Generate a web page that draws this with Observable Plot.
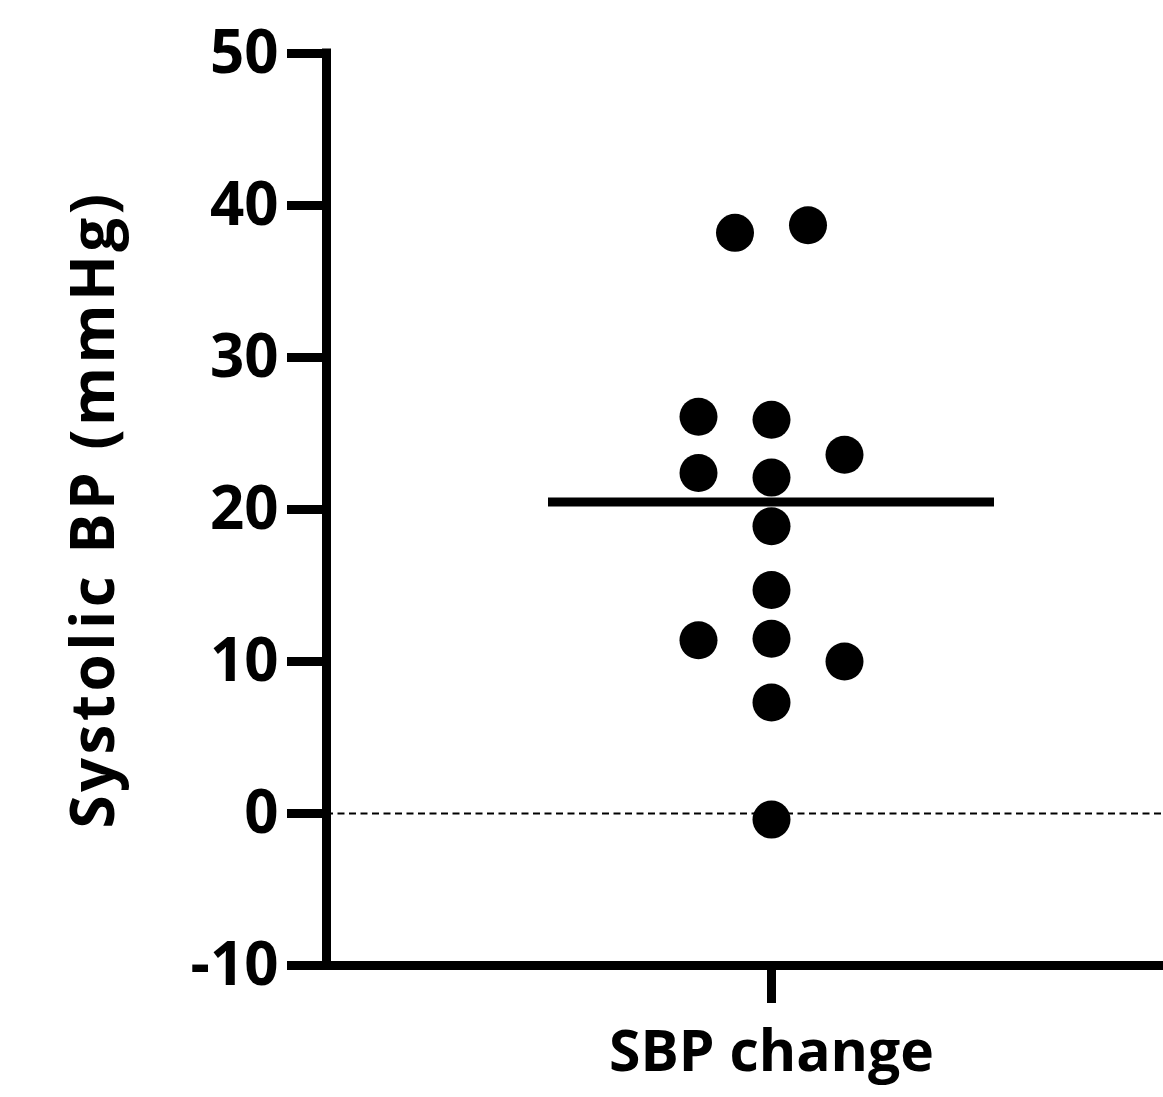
<!DOCTYPE html>
<html>
<head>
<meta charset="utf-8">
<script src="https://cdn.jsdelivr.net/npm/d3@7"></script>
<script src="https://cdn.jsdelivr.net/npm/@observablehq/plot@0.6"></script>
<style>
  html, body { margin: 0; padding: 0; background: #fff; }
</style>
</head>
<body>
<div id="chart"></div>
<script>
// Systolic BP change per subject (mmHg)
const values = [38.2, 38.7, 26.1, 25.9, 23.6, 22.4, 22.1, 18.9, 14.7, 11.4, 11.5, 10.0, 7.3, -0.4];
// beeswarm column of each point (0 = centre of the group)
const columns = [-1, 1, -2, 0, 2, -2, 0, 0, 0, -2, 0, 2, 0, 0];
const groupLabel = "SBP change";
const yTicks = [-10, 0, 10, 20, 30, 40, 50];
const yLabel = "Systolic BP (mmHg)";

const data = values.map((v, i) => ({value: v, col: columns[i]}));
const median = d3.median(values);

const colPx = 36.5;                    // pixel spacing of one column
const xDomain = [-445 / colPx, 392 / colPx];
const halfLine = 223 / colPx;

const chart = Plot.plot({
  width: 1163,
  height: 1097,
  marginLeft: 326,
  marginRight: 0,
  marginTop: 53,
  marginBottom: 132,
  style: {fontFamily: "'Open Sans', sans-serif", background: "#fff", color: "#000"},
  x: {domain: xDomain},
  y: {domain: [-10, 50]},
  marks: [
    Plot.ruleY([0], {stroke: "#000", strokeWidth: 2, strokeDasharray: "7,4.5"}),
    Plot.ruleY([median], {x1: -halfLine, x2: halfLine, stroke: "#000", strokeWidth: 9}),
    Plot.dot(data, {x: "col", y: "value", r: 19, fill: "#000", stroke: "none"}),
    Plot.ruleY([-10], {stroke: "#000", strokeWidth: 9, strokeLinecap: "square"}),
    Plot.ruleX([xDomain[0]], {y1: -10, y2: 50, stroke: "#000", strokeWidth: 9, strokeLinecap: "square"}),
    Plot.axisY({ticks: yTicks, tickSize: 39, tickPadding: 9, strokeWidth: 9, stroke: "#000",
      fontSize: 60, fontWeight: "bold", label: null, tickFormat: d => String(d)}),
    Plot.axisX({ticks: [0], tickSize: 38, tickPadding: 27, strokeWidth: 9, stroke: "#000",
      fontSize: 57, fontWeight: "bold", label: null, tickFormat: () => groupLabel}),
    Plot.text([yLabel], {frameAnchor: "left", dx: -213, rotate: -90, textAnchor: "middle",
      lineAnchor: "bottom", fontSize: 60, fontWeight: "bold", fill: "#000"})
  ]
});
d3.select(chart).selectAll("text")
  .filter(function () { return this.textContent === yLabel; })
  .style("letter-spacing", "3.5px");
document.getElementById("chart").appendChild(chart);
</script>
</body>
</html>
